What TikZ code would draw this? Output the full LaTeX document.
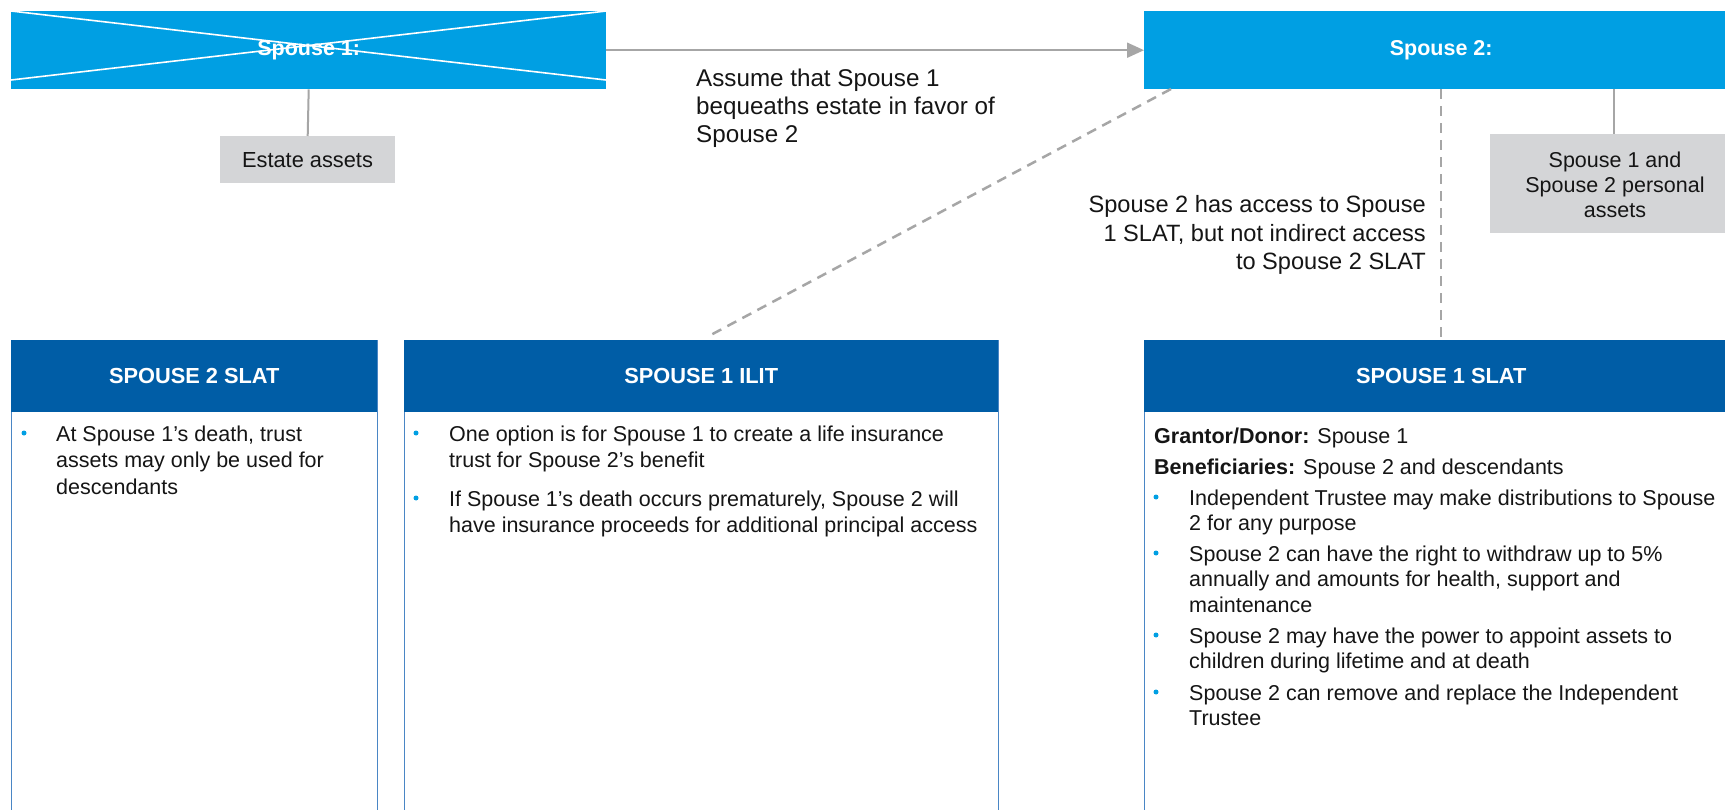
\documentclass[tikz,border=0pt]{standalone}
\usepackage{fontspec}
\setmainfont{Liberation Sans}
\usetikzlibrary{arrows.meta}
\definecolor{lblue}{HTML}{009FE3}
\definecolor{dblue}{HTML}{005DA6}
\definecolor{bline}{HTML}{4A86C5}
\definecolor{gbox}{HTML}{D4D5D7}
\definecolor{gline}{HTML}{A6A6A6}
\definecolor{tx}{HTML}{151515}
\newcommand{\Lpar}[1]{\parbox[t]{700pt}{\raggedright #1}}
\newcommand{\Rpar}[1]{\parbox[t]{500pt}{\raggedleft #1}}
\newcommand{\Cpar}[1]{\parbox[t]{300pt}{\centering #1}}
\begin{document}
\begin{tikzpicture}[x=1pt,y=-1pt,
  topbox/.style={fill=lblue,draw=none,anchor=north west,inner sep=0pt},
  toptext/.style={text=white,font=\fontsize{21.5}{24}\selectfont\bfseries,inner sep=0pt},
  greybox/.style={fill=gbox,draw=none,anchor=north west,inner sep=0pt},
  bodybox/.style={draw=bline,line width=1.2pt,fill=white,anchor=north west,inner sep=0pt},
  headbox/.style={fill=dblue,draw=none,anchor=north west,inner sep=0pt,text=white,
    font=\fontsize{21.8}{24}\selectfont\bfseries},
  txt/.style={inner sep=0pt,text=tx,anchor=base west},
  dot/.style={circle,fill=lblue,inner sep=0pt,minimum size=5pt},
  solidline/.style={draw=gline,line width=2pt},
  dashline/.style={draw=gline,line width=2.5pt,dash pattern=on 10pt off 7pt},
  every node/.append style={font=\fontsize{21.5}{26.5}\selectfont}
]
\useasboundingbox[fill=white] (0,0) rectangle (1725,810);

% top boxes
\node[topbox,minimum width=595pt,minimum height=78pt] (s1) at (11,11) {};
\draw[white,line width=1.6pt] (s1.north west) -- (606,80);
\draw[white,line width=1.6pt] (11,80) -- (s1.north east);
\node[toptext] (s1t) at (s1.center) {Spouse 1:};

\node[topbox,minimum width=594pt,minimum height=78pt] (s2) at (1144,11) {};
\node[toptext] (s2t) at (s2.center) {Spouse 2:};

% grey boxes
\node[greybox,minimum width=175pt,minimum height=47pt] (ea) at (220,136) {};
\node[txt,anchor=base,font=\fontsize{21.8}{25}\selectfont] (eat) at (307.5,168) {Estate assets};

\node[greybox,minimum width=250pt,minimum height=99pt] (pa) at (1490,134) {};
\node[txt,anchor=base] (pat) at (1615,168)
  {\Cpar{\fontsize{21.5}{25}\selectfont Spouse 1 and\\Spouse 2 personal\\assets}};

% bottom boxes
\node[bodybox,minimum width=366pt,minimum height=480pt] (b1) at (11,340) {};
\node[headbox,minimum width=366pt,minimum height=72pt] (h1) at (11,340) {SPOUSE 2 SLAT};

\node[bodybox,minimum width=594pt,minimum height=480pt] (b2) at (404,340) {};
\node[headbox,minimum width=594pt,minimum height=72pt] (h2) at (404,340) {SPOUSE 1 ILIT};

\node[bodybox,minimum width=594pt,minimum height=480pt] (b3) at (1144,340) {};
\node[headbox,minimum width=594pt,minimum height=72pt] (h3) at (1144,340) {SPOUSE 1 SLAT};

% connectors
\draw[solidline,-{Triangle[length=17pt,width=15pt]}] (s1.east) -- (s2.west);
\draw[solidline] (s1.south) -- (ea.north);
\draw[solidline] (1614,89) coordinate (pa1) -- (pa1 |- pa.north);
\coordinate (d1) at (1171,89);
\coordinate (d2) at (707,337);
\draw[dashline] (d1) -- (d2);
\draw[dashline] (s2.south) -- (h3.north);

% annotations
\node[txt] (ann1) at (696,87)
  {\Lpar{\fontsize{24.2}{28}\selectfont Assume that Spouse 1\\bequeaths estate in favor of\\Spouse 2}};
\node[txt,anchor=base east] (ann2) at (1426,213)
  {\Rpar{\fontsize{23.6}{28.5}\selectfont Spouse 2 has access to Spouse\\1 SLAT, but not indirect access\\to Spouse 2 SLAT}};

% body 1
\node[dot] (d11) at (24,433) {};
\node[txt] (p11) at (56,441) {\Lpar{At Spouse 1’s death, trust\\assets may only be used for\\descendants}};

% body 2
\node[dot] (d21) at (416,433) {};
\node[txt] (p21) at (449,441) {\Lpar{One option is for Spouse 1 to create a life insurance\\trust for Spouse 2’s benefit}};
\node[dot] (d22) at (416,498) {};
\node[txt] (p22) at (449,506) {\Lpar{If Spouse 1’s death occurs prematurely, Spouse 2 will\\have insurance proceeds for additional principal access}};

% body 3
\node[txt] (g3) at (1154,443) {\textbf{Grantor/Donor:} Spouse 1};
\node[txt] (be3) at (1154,474) {\textbf{Beneficiaries:} Spouse 2 and descendants};
\node[dot] (d31) at (1156,497) {};
\node[txt] (p31) at (1189,505) {\Lpar{\fontsize{21.5}{25.8}\selectfont Independent Trustee may make distributions to Spouse\\2 for any purpose}};
\node[dot] (d32) at (1156,553) {};
\node[txt] (p32) at (1189,561) {\Lpar{\fontsize{21.5}{25.8}\selectfont Spouse 2 can have the right to withdraw up to 5\%\\annually and amounts for health, support and\\maintenance}};
\node[dot] (d33) at (1156,635) {};
\node[txt] (p33) at (1189,643) {\Lpar{\fontsize{21.5}{25.8}\selectfont Spouse 2 may have the power to appoint assets to\\children during lifetime and at death}};
\node[dot] (d34) at (1156,692) {};
\node[txt] (p34) at (1189,700) {\Lpar{\fontsize{21.5}{25.8}\selectfont Spouse 2 can remove and replace the Independent\\Trustee}};
\end{tikzpicture}
\end{document}
